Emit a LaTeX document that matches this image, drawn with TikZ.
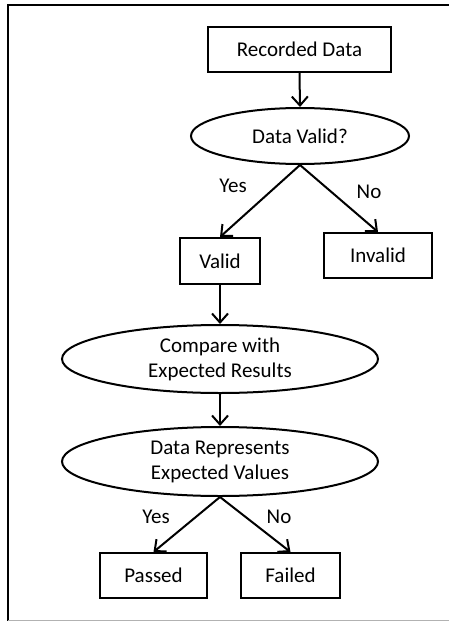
\documentclass[tikz,border=0pt]{standalone}
\usepackage{fontspec}
\setmainfont{Carlito}
\usetikzlibrary{shapes.geometric,arrows.meta}
\begin{document}
\begin{tikzpicture}[x=1pt,y=-1pt,
  every node/.style={font=\fontsize{21}{25}\selectfont, inner sep=0pt},
  box/.style={draw, line width=2pt, rectangle},
  oval/.style={draw, line width=2pt, ellipse},
  conn/.style={line width=2pt, -{Straight Barb[length=9pt,width=16pt,line width=2pt]}},
  lbl/.style={}
]
\useasboundingbox (0,0) rectangle (449,621);
% frame
\draw[line width=2.2pt] (8,621) -- (8,5) -- (449,5);
\draw[line width=1pt, gray!60] (8,620) -- (449,620);

\node[box, minimum width=183pt, minimum height=45pt] (rec) at (299.5,49.5) {Recorded Data};
\node[oval, minimum width=218pt, minimum height=56pt] (dv) at (300,136) {Data Valid?};
\node[box, minimum width=80pt, minimum height=46pt] (valid) at (220,261) {Valid};
\node[box, minimum width=108pt, minimum height=45pt] (invalid) at (378,255.5) {Invalid};
\node[oval, minimum width=316pt, minimum height=68pt, align=center] (cmp) at (220,359) {Compare with\\Expected Results};
\node[oval, minimum width=316pt, minimum height=69pt, align=center] (dr) at (220,461.5) {Data Represents\\Expected Values};
\node[box, minimum width=107pt, minimum height=45pt] (passed) at (153.5,575.5) {Passed};
\node[box, minimum width=99pt, minimum height=45pt] (failed) at (290.5,575.5) {Failed};

\node[lbl] (y1) at (233,186) {Yes};
\node[lbl] (n1) at (369,192) {No};
\node[lbl] (y2) at (156,517) {Yes};
\node[lbl] (n2) at (279,517) {No};

\draw[conn] (rec.south) -- (dv.north);
\draw[conn] (dv.south) -- (valid.north);
\draw[conn] (dv.south) -- (invalid.north);
\draw[conn] (valid.south) -- (cmp.north);
\draw[conn] (cmp.south) -- (dr.north);
\draw[conn] (dr.south) -- (passed.north);
\draw[conn] (dr.south) -- (failed.north);
\end{tikzpicture}
\end{document}
